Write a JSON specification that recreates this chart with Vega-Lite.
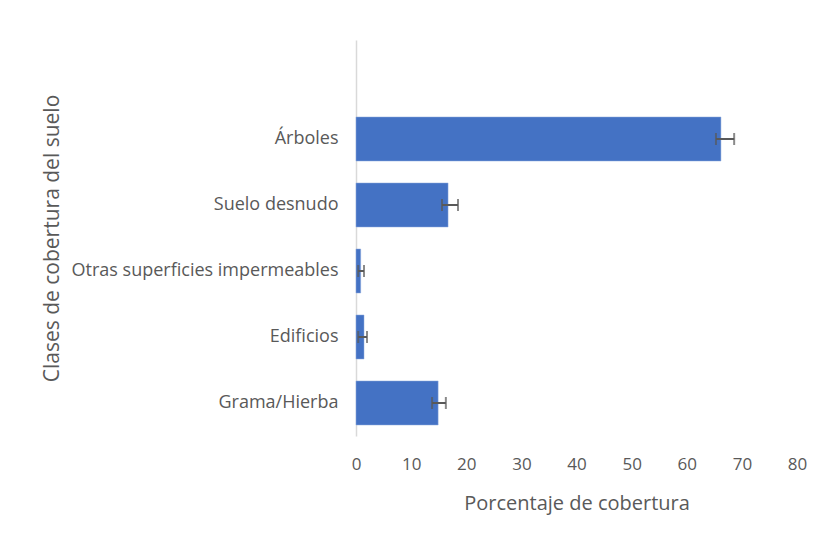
{
  "$schema": "https://vega.github.io/schema/vega-lite/v6.json",
  "autosize": {"type": "none"},
  "width": 441,
  "height": 396,
  "padding": {"left": 356, "top": 40, "right": 25, "bottom": 102},
  "background": "white",
  "config": {
    "view": {"stroke": null},
    "font": "Open Sans"
  },
  "data": {
    "values": [
      {"clase": "Árboles", "valor": 66.2, "lo": 65.3, "hi": 68.6},
      {"clase": "Suelo desnudo", "valor": 16.7, "lo": 15.6, "hi": 18.5},
      {"clase": "Otras superficies impermeables", "valor": 0.85, "lo": 0.4, "hi": 1.45},
      {"clase": "Edificios", "valor": 1.45, "lo": 0.4, "hi": 2.0},
      {"clase": "Grama/Hierba", "valor": 14.9, "lo": 13.8, "hi": 16.3}
    ]
  },
  "encoding": {
    "y": {
      "field": "clase",
      "type": "nominal",
      "sort": null,
      "scale": {
        "domain": [" ", "Árboles", "Suelo desnudo", "Otras superficies impermeables", "Edificios", "Grama/Hierba"],
        "paddingInner": 0.333,
        "paddingOuter": 0.1667
      },
      "axis": {
        "title": "Clases de cobertura del suelo",
        "titleFont": "Open Sans",
        "titleFontSize": 21,
        "titleFontWeight": "normal",
        "titleColor": "#595959",
        "titleX": -304,
        "titleY": 198,
        "titleAngle": -90,
        "titleAlign": "center",
        "titleBaseline": "middle",
        "labelFont": "Open Sans",
        "labelFontSize": 18,
        "labelColor": "#595959",
        "labelPadding": 18,
        "labelLimit": 400,
        "ticks": false,
        "domain": true,
        "domainColor": "#d9d9d9",
        "domainWidth": 1.5,
        "grid": false
      }
    }
  },
  "layer": [
    {
      "mark": {"type": "bar", "color": "#4472C4", "stroke": "#8faadc", "strokeWidth": 0.5},
      "encoding": {
        "x": {
          "field": "valor",
          "type": "quantitative",
          "scale": {"domain": [0, 80], "nice": false},
          "axis": {
            "title": "Porcentaje de cobertura",
            "titleFont": "Open Sans",
            "titleFontSize": 20,
            "titleFontWeight": "normal",
            "titleColor": "#595959",
            "titleY": 67,
            "titleBaseline": "middle",
            "values": [0, 10, 20, 30, 40, 50, 60, 70, 80],
            "labelFont": "Open Sans",
            "labelFontSize": 17,
            "labelColor": "#595959",
            "labelPadding": 20,
            "labelFlush": false,
            "ticks": false,
            "domain": false,
            "grid": false
          }
        }
      }
    },
    {
      "mark": {"type": "rule", "color": "#595959", "strokeWidth": 2},
      "encoding": {
        "x": {"field": "lo", "type": "quantitative"},
        "x2": {"field": "hi"}
      }
    },
    {
      "mark": {"type": "tick", "orient": "vertical", "color": "#595959", "thickness": 2, "size": 12},
      "encoding": {
        "x": {"field": "lo", "type": "quantitative"}
      }
    },
    {
      "mark": {"type": "tick", "orient": "vertical", "color": "#595959", "thickness": 2, "size": 12},
      "encoding": {
        "x": {"field": "hi", "type": "quantitative"}
      }
    }
  ]
}
